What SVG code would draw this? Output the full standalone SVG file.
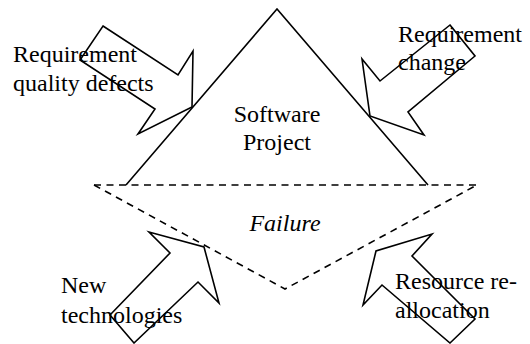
<svg xmlns="http://www.w3.org/2000/svg" width="530" height="344" viewBox="0 0 530 344">
<style>
.ln{fill:none;stroke:#000;stroke-width:1.6;stroke-linejoin:miter}
.dash{fill:none;stroke:#000;stroke-width:1.6;stroke-dasharray:7 5.5}
text{font-family:'Liberation Serif','DejaVu Serif',serif;font-size:24px;fill:#000}
.i{font-style:italic}
</style>
<rect width="530" height="344" fill="#fff"/>
<g id="project">
<polyline class="ln" points="126,185 277,9 428,185"/>
<text x="277" y="122" text-anchor="middle" font-family="Liberation Serif, serif">Software</text>
<text x="277" y="150" text-anchor="middle" font-family="Liberation Serif, serif">Project</text>
</g>
<g id="failure">
<polyline class="dash" points="94,185 477,185"/>
<polyline class="dash" points="94,185 285,289 477,185"/>
<text class="i" x="285" y="231" text-anchor="middle" font-family="Liberation Serif, serif">Failure</text>
</g>
<g id="connectors">
<polygon id="arrow-quality" class="ln" points="103,26 178,75 193,51 192,107 138,134 155,109 80,60"/>
<polygon id="arrow-change" class="ln" points="450,25 475,56 408,112 424,135 370,116 362,59 380,81"/>
<polygon id="arrow-tech" class="ln" points="134,343 110,315 170,253 149,232 204,247 219,303 198,282"/>
<polygon id="arrow-resource" class="ln" points="450,343 475,319 412,256 432,234 376,251 363,305 382,285"/>
</g>
<g id="quality-defects" font-family="Liberation Serif, serif">
<text x="13" y="62">Requirement</text>
<text x="13" y="91">quality defects</text>
</g>
<g id="requirement-change" font-family="Liberation Serif, serif">
<text x="398" y="42">Requirement</text>
<text x="398" y="70">change</text>
</g>
<g id="new-technologies" font-family="Liberation Serif, serif">
<text x="61" y="293">New</text>
<text x="61" y="323">technologies</text>
</g>
<g id="resource-reallocation" font-family="Liberation Serif, serif">
<text x="395" y="289">Resource re-</text>
<text x="395" y="318">allocation</text>
</g>
</svg>
